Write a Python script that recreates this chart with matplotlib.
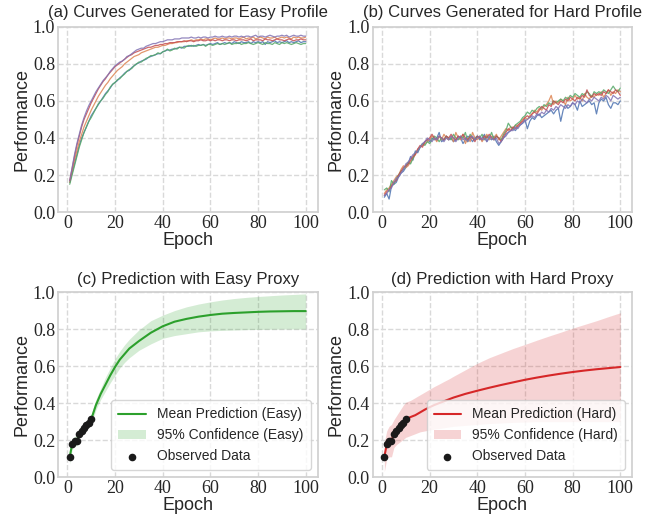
import numpy as np
import matplotlib
matplotlib.use("Agg")
import matplotlib.pyplot as plt
import seaborn as sns

# ---- data ----
epochs = np.arange(1, 101)

easy_blue = [0.16, 0.21, 0.26, 0.31, 0.36, 0.40, 0.43, 0.46, 0.49, 0.52,
             0.54, 0.56, 0.58, 0.60, 0.62, 0.64, 0.655, 0.67, 0.69, 0.70,
             0.71, 0.725, 0.735, 0.75, 0.76, 0.765, 0.78, 0.79, 0.80, 0.805,
             0.815, 0.82, 0.825, 0.835, 0.84, 0.845, 0.85, 0.855, 0.855, 0.865,
             0.87, 0.875, 0.875, 0.88, 0.88, 0.885, 0.89, 0.885, 0.895, 0.895,
             0.895, 0.90, 0.895, 0.90, 0.905, 0.90, 0.905, 0.90, 0.905, 0.91,
             0.905, 0.91, 0.915, 0.905, 0.91, 0.915, 0.91, 0.915, 0.91, 0.92,
             0.915, 0.91, 0.92, 0.915, 0.915, 0.92, 0.91, 0.92, 0.915, 0.92,
             0.915, 0.92, 0.905, 0.92, 0.915, 0.92, 0.925, 0.915, 0.92, 0.915,
             0.92, 0.925, 0.915, 0.92, 0.915, 0.92, 0.925, 0.915, 0.92, 0.92]
easy_orange = [0.16, 0.22, 0.28, 0.33, 0.38, 0.42, 0.46, 0.49, 0.52, 0.55,
               0.575, 0.60, 0.625, 0.645, 0.665, 0.685, 0.70, 0.72, 0.735, 0.75,
               0.765, 0.775, 0.785, 0.80, 0.81, 0.82, 0.83, 0.84, 0.845, 0.85,
               0.86, 0.865, 0.87, 0.875, 0.88, 0.885, 0.89, 0.89, 0.895, 0.90,
               0.90, 0.905, 0.91, 0.91, 0.915, 0.915, 0.92, 0.92, 0.92, 0.925,
               0.925, 0.93, 0.925, 0.93, 0.93, 0.935, 0.93, 0.935, 0.935, 0.93,
               0.935, 0.94, 0.935, 0.935, 0.94, 0.935, 0.94, 0.94, 0.935, 0.94,
               0.94, 0.935, 0.94, 0.945, 0.935, 0.94, 0.94, 0.945, 0.935, 0.94,
               0.945, 0.94, 0.935, 0.945, 0.94, 0.94, 0.945, 0.935, 0.94, 0.945,
               0.94, 0.945, 0.94, 0.935, 0.945, 0.94, 0.945, 0.94, 0.94, 0.945]
easy_green = [0.15, 0.20, 0.25, 0.30, 0.35, 0.39, 0.43, 0.46, 0.49, 0.51,
              0.535, 0.56, 0.585, 0.60, 0.615, 0.635, 0.65, 0.675, 0.69, 0.70,
              0.715, 0.72, 0.735, 0.745, 0.76, 0.77, 0.775, 0.79, 0.80, 0.81,
              0.81, 0.82, 0.83, 0.835, 0.845, 0.845, 0.85, 0.86, 0.855, 0.865,
              0.87, 0.88, 0.87, 0.875, 0.885, 0.88, 0.89, 0.89, 0.885, 0.895,
              0.90, 0.895, 0.90, 0.895, 0.90, 0.90, 0.905, 0.895, 0.905, 0.905,
              0.90, 0.905, 0.91, 0.905, 0.91, 0.905, 0.91, 0.915, 0.905, 0.91,
              0.91, 0.915, 0.905, 0.91, 0.91, 0.915, 0.91, 0.905, 0.91, 0.915,
              0.91, 0.905, 0.915, 0.91, 0.91, 0.905, 0.915, 0.91, 0.905, 0.915,
              0.91, 0.915, 0.91, 0.905, 0.91, 0.915, 0.91, 0.905, 0.91, 0.91]
easy_red = [0.17, 0.235, 0.30, 0.36, 0.41, 0.46, 0.50, 0.53, 0.56, 0.59,
            0.615, 0.64, 0.665, 0.685, 0.705, 0.72, 0.74, 0.755, 0.77, 0.785,
            0.795, 0.805, 0.815, 0.825, 0.835, 0.845, 0.85, 0.86, 0.865, 0.87,
            0.875, 0.88, 0.885, 0.89, 0.89, 0.895, 0.90, 0.90, 0.905, 0.905,
            0.91, 0.91, 0.915, 0.915, 0.915, 0.92, 0.92, 0.92, 0.925, 0.92,
            0.925, 0.925, 0.92, 0.925, 0.925, 0.93, 0.925, 0.925, 0.93, 0.925,
            0.93, 0.925, 0.93, 0.93, 0.925, 0.93, 0.93, 0.925, 0.93, 0.93,
            0.925, 0.93, 0.93, 0.93, 0.925, 0.93, 0.935, 0.925, 0.93, 0.93,
            0.93, 0.925, 0.935, 0.93, 0.93, 0.925, 0.93, 0.935, 0.93, 0.93,
            0.925, 0.93, 0.935, 0.93, 0.925, 0.93, 0.93, 0.935, 0.93, 0.93]
easy_purple = [0.17, 0.24, 0.31, 0.37, 0.42, 0.47, 0.51, 0.545, 0.575, 0.60,
               0.625, 0.65, 0.67, 0.69, 0.71, 0.725, 0.74, 0.76, 0.775, 0.79,
               0.80, 0.81, 0.815, 0.825, 0.84, 0.845, 0.855, 0.865, 0.875, 0.88,
               0.885, 0.885, 0.895, 0.90, 0.905, 0.91, 0.91, 0.915, 0.92, 0.92,
               0.925, 0.93, 0.93, 0.93, 0.935, 0.935, 0.935, 0.94, 0.94, 0.94,
               0.94, 0.945, 0.94, 0.94, 0.945, 0.94, 0.945, 0.945, 0.94, 0.945,
               0.945, 0.95, 0.945, 0.945, 0.95, 0.945, 0.945, 0.95, 0.945, 0.95,
               0.95, 0.945, 0.95, 0.945, 0.95, 0.95, 0.945, 0.95, 0.955, 0.945,
               0.95, 0.95, 0.945, 0.95, 0.955, 0.95, 0.945, 0.95, 0.95, 0.955,
               0.95, 0.955, 0.945, 0.95, 0.955, 0.95, 0.95, 0.955, 0.95, 0.95]

hard_blue = [0.08, 0.10, 0.07, 0.14, 0.15, 0.16, 0.19, 0.21, 0.22, 0.24,
             0.26, 0.30, 0.28, 0.33, 0.32, 0.35, 0.36, 0.38, 0.39, 0.38,
             0.40, 0.39, 0.40, 0.43, 0.38, 0.39, 0.41, 0.39, 0.40, 0.38,
             0.39, 0.41, 0.40, 0.37, 0.39, 0.41, 0.40, 0.38, 0.40, 0.41,
             0.39, 0.40, 0.42, 0.38, 0.40, 0.39, 0.41, 0.38, 0.36, 0.38,
             0.40, 0.42, 0.43, 0.44, 0.45, 0.44, 0.46, 0.47, 0.48, 0.50,
             0.45, 0.49, 0.51, 0.50, 0.52, 0.53, 0.51, 0.52, 0.53, 0.54,
             0.55, 0.53, 0.55, 0.56, 0.49, 0.55, 0.58, 0.56, 0.57, 0.59,
             0.58, 0.55, 0.60, 0.57, 0.58, 0.59, 0.60, 0.58, 0.59, 0.53,
             0.59, 0.61, 0.60, 0.62, 0.58, 0.56, 0.59, 0.59, 0.58, 0.60]
hard_orange = [0.10, 0.12, 0.13, 0.15, 0.17, 0.19, 0.20, 0.23, 0.25, 0.24,
               0.25, 0.27, 0.29, 0.31, 0.34, 0.35, 0.36, 0.37, 0.38, 0.39,
               0.41, 0.40, 0.38, 0.41, 0.39, 0.42, 0.40, 0.39, 0.41, 0.38,
               0.43, 0.40, 0.39, 0.42, 0.37, 0.40, 0.38, 0.43, 0.40, 0.39,
               0.41, 0.38, 0.40, 0.42, 0.39, 0.41, 0.40, 0.42, 0.39, 0.41,
               0.43, 0.45, 0.44, 0.46, 0.45, 0.47, 0.46, 0.48, 0.50, 0.51,
               0.50, 0.52, 0.53, 0.55, 0.54, 0.56, 0.55, 0.57, 0.58, 0.60,
               0.63, 0.58, 0.60, 0.59, 0.61, 0.60, 0.58, 0.62, 0.60, 0.61,
               0.63, 0.61, 0.62, 0.60, 0.64, 0.62, 0.61, 0.63, 0.62, 0.64,
               0.63, 0.65, 0.62, 0.64, 0.66, 0.63, 0.65, 0.64, 0.66, 0.65]
hard_green = [0.12, 0.13, 0.11, 0.17, 0.15, 0.18, 0.20, 0.22, 0.23, 0.25,
              0.27, 0.26, 0.29, 0.32, 0.33, 0.35, 0.37, 0.36, 0.38, 0.37,
              0.39, 0.41, 0.40, 0.38, 0.40, 0.39, 0.41, 0.40, 0.39, 0.42,
              0.40, 0.39, 0.41, 0.40, 0.43, 0.38, 0.42, 0.40, 0.39, 0.41,
              0.40, 0.42, 0.39, 0.41, 0.40, 0.43, 0.39, 0.41, 0.40, 0.39,
              0.42, 0.44, 0.48, 0.46, 0.45, 0.47, 0.48, 0.49, 0.51, 0.52,
              0.54, 0.53, 0.55, 0.54, 0.56, 0.57, 0.56, 0.58, 0.57, 0.59,
              0.58, 0.60, 0.59, 0.60, 0.61, 0.60, 0.62, 0.61, 0.63, 0.62,
              0.64, 0.63, 0.62, 0.64, 0.63, 0.65, 0.64, 0.62, 0.65, 0.64,
              0.65, 0.64, 0.66, 0.65, 0.64, 0.66, 0.68, 0.66, 0.65, 0.67]
hard_red = [0.09, 0.11, 0.12, 0.14, 0.16, 0.17, 0.20, 0.22, 0.24, 0.25,
            0.26, 0.28, 0.30, 0.31, 0.34, 0.36, 0.35, 0.38, 0.39, 0.40,
            0.42, 0.40, 0.39, 0.41, 0.40, 0.39, 0.41, 0.40, 0.42, 0.40,
            0.39, 0.41, 0.40, 0.42, 0.40, 0.39, 0.41, 0.40, 0.38, 0.41,
            0.40, 0.39, 0.41, 0.40, 0.42, 0.40, 0.39, 0.41, 0.40, 0.38,
            0.41, 0.43, 0.45, 0.44, 0.46, 0.45, 0.47, 0.48, 0.49, 0.51,
            0.52, 0.51, 0.53, 0.54, 0.53, 0.55, 0.57, 0.56, 0.55, 0.58,
            0.57, 0.60, 0.59, 0.58, 0.60, 0.59, 0.61, 0.60, 0.62, 0.61,
            0.60, 0.62, 0.61, 0.63, 0.62, 0.66, 0.63, 0.62, 0.64, 0.63,
            0.64, 0.63, 0.65, 0.64, 0.66, 0.65, 0.64, 0.66, 0.65, 0.63]
hard_purple = [0.09, 0.10, 0.12, 0.13, 0.16, 0.18, 0.19, 0.21, 0.23, 0.26,
               0.27, 0.29, 0.31, 0.32, 0.33, 0.35, 0.37, 0.38, 0.40, 0.39,
               0.38, 0.40, 0.39, 0.41, 0.40, 0.38, 0.40, 0.39, 0.41, 0.40,
               0.38, 0.40, 0.41, 0.39, 0.40, 0.38, 0.40, 0.41, 0.39, 0.40,
               0.41, 0.39, 0.40, 0.38, 0.41, 0.40, 0.39, 0.40, 0.37, 0.38,
               0.40, 0.41, 0.43, 0.44, 0.44, 0.46, 0.45, 0.47, 0.48, 0.49,
               0.50, 0.51, 0.52, 0.51, 0.53, 0.52, 0.54, 0.53, 0.55, 0.54,
               0.56, 0.55, 0.57, 0.56, 0.58, 0.57, 0.56, 0.58, 0.57, 0.59,
               0.58, 0.60, 0.59, 0.61, 0.60, 0.59, 0.61, 0.60, 0.62, 0.61,
               0.60, 0.62, 0.61, 0.63, 0.62, 0.60, 0.63, 0.62, 0.61, 0.62]

# observed points (first 10 epochs of the target run)
obs_epochs = np.arange(1, 11)
obs_values = [0.11, 0.178, 0.195, 0.197, 0.235, 0.25, 0.265, 0.28, 0.295, 0.312]

# prediction curves
pred_epochs = [1, 2, 3, 4, 5, 6, 7, 8, 9, 10,
               12, 14, 16, 18, 20, 22, 24, 26, 28, 30,
               35, 40, 45, 50, 55, 60, 65, 70, 75, 80, 85, 90, 95, 100]

easy_mean = [0.11, 0.178, 0.195, 0.197, 0.235, 0.25, 0.265, 0.28, 0.295, 0.312,
             0.39, 0.45, 0.50, 0.55, 0.595, 0.635, 0.665, 0.695, 0.715, 0.735,
             0.78, 0.815, 0.84, 0.855, 0.867, 0.876, 0.883, 0.887, 0.89, 0.893,
             0.895, 0.896, 0.897, 0.897]
easy_lower = [0.07, 0.15, 0.17, 0.17, 0.21, 0.225, 0.24, 0.255, 0.27, 0.285,
              0.365, 0.42, 0.465, 0.51, 0.55, 0.59, 0.62, 0.645, 0.665, 0.685,
              0.72, 0.75, 0.765, 0.775, 0.785, 0.79, 0.793, 0.795, 0.797, 0.798,
              0.799, 0.80, 0.80, 0.80]
easy_upper = [0.15, 0.21, 0.22, 0.225, 0.26, 0.275, 0.29, 0.305, 0.32, 0.34,
              0.42, 0.48, 0.54, 0.59, 0.64, 0.68, 0.715, 0.745, 0.77, 0.795,
              0.845, 0.875, 0.90, 0.92, 0.935, 0.947, 0.957, 0.965, 0.971, 0.976,
              0.98, 0.984, 0.987, 0.99]

hard_mean = [0.11, 0.178, 0.195, 0.197, 0.235, 0.25, 0.265, 0.28, 0.295, 0.312,
             0.325, 0.335, 0.35, 0.365, 0.378, 0.39, 0.40, 0.41, 0.42, 0.43,
             0.45, 0.467, 0.483, 0.498, 0.512, 0.526, 0.538, 0.549, 0.559, 0.568,
             0.576, 0.583, 0.589, 0.595]
hard_lower = [0.03, 0.10, 0.11, 0.11, 0.16, 0.175, 0.185, 0.195, 0.205, 0.215,
              0.225, 0.235, 0.245, 0.25, 0.255, 0.26, 0.263, 0.267, 0.271, 0.275,
              0.28, 0.285, 0.29, 0.293, 0.296, 0.298, 0.30, 0.30, 0.30, 0.30,
              0.30, 0.30, 0.30, 0.30]
hard_upper = [0.19, 0.25, 0.275, 0.285, 0.31, 0.33, 0.35, 0.37, 0.39, 0.405,
              0.415, 0.43, 0.445, 0.46, 0.475, 0.49, 0.503, 0.517, 0.53, 0.545,
              0.58, 0.615, 0.645, 0.67, 0.695, 0.717, 0.74, 0.762, 0.783, 0.805,
              0.825, 0.845, 0.867, 0.888]

palette = sns.color_palette("deep")

sns.set_theme(style="whitegrid")
plt.rcParams["font.family"] = ["Liberation Sans", "DejaVu Sans"]
plt.rcParams["grid.linestyle"] = "--"
plt.rcParams["grid.color"] = "#d9d9d9"
plt.rcParams["axes.edgecolor"] = "#d0d0d0"

fig, axes = plt.subplots(2, 2, figsize=(6.51, 5.17), dpi=100)
fig.subplots_adjust(left=0.089, right=0.971, top=0.948, bottom=0.077,
                    wspace=0.212, hspace=0.432)

easy_curves = [easy_blue, easy_orange, easy_green, easy_red, easy_purple]
hard_curves = [hard_blue, hard_orange, hard_green, hard_red, hard_purple]

ax = axes[0, 0]
for i, curve in enumerate(easy_curves):
    ax.plot(epochs, curve, color=palette[i], linewidth=0.9, alpha=0.85)
ax.set_title("(a) Curves Generated for Easy Profile", fontsize=12, pad=7)

ax = axes[0, 1]
for i, curve in enumerate(hard_curves):
    ax.plot(epochs, curve, color=palette[i], linewidth=0.9, alpha=0.85)
ax.set_title("(b) Curves Generated for Hard Profile", fontsize=12, pad=7)

ax = axes[1, 0]
ax.plot(pred_epochs, easy_mean, color="tab:green", linewidth=1.5,
        label="Mean Prediction (Easy)")
ax.fill_between(pred_epochs, easy_lower, easy_upper, color="tab:green",
                alpha=0.2, linewidth=0, label="95% Confidence (Easy)")
ax.scatter(obs_epochs, obs_values, color="#1a1a1a", s=20, zorder=3,
           label="Observed Data")
ax.set_title("(c) Prediction with Easy Proxy", fontsize=12, pad=6)

ax = axes[1, 1]
ax.plot(pred_epochs, hard_mean, color="tab:red", linewidth=1.5,
        label="Mean Prediction (Hard)")
ax.fill_between(pred_epochs, hard_lower, hard_upper, color="tab:red",
                alpha=0.2, linewidth=0, label="95% Confidence (Hard)")
ax.scatter(obs_epochs, obs_values, color="#1a1a1a", s=20, zorder=3,
           label="Observed Data")
ax.set_title("(d) Prediction with Hard Proxy", fontsize=12, pad=6)

for ax in axes.flat:
    ax.set_ylim(0, 1.0)
    ax.set_xticks([0, 20, 40, 60, 80, 100])
    ax.set_yticks([0.0, 0.2, 0.4, 0.6, 0.8, 1.0])
    ax.set_xlabel("Epoch", fontsize=13, labelpad=0)
    ax.set_ylabel("Performance", fontsize=13, labelpad=2)
    ax.tick_params(axis="both", labelsize=13, pad=2, length=0)
    for lab in ax.get_xticklabels() + ax.get_yticklabels():
        lab.set_fontfamily("Liberation Serif")
        lab.set_color("#262626")

for ax in axes[1]:
    ax.legend(loc="lower right", fontsize=10, frameon=True, framealpha=0.8,
              edgecolor="#cccccc", borderpad=0.5, handlelength=2.0)

fig.savefig("out.png", dpi=100)
